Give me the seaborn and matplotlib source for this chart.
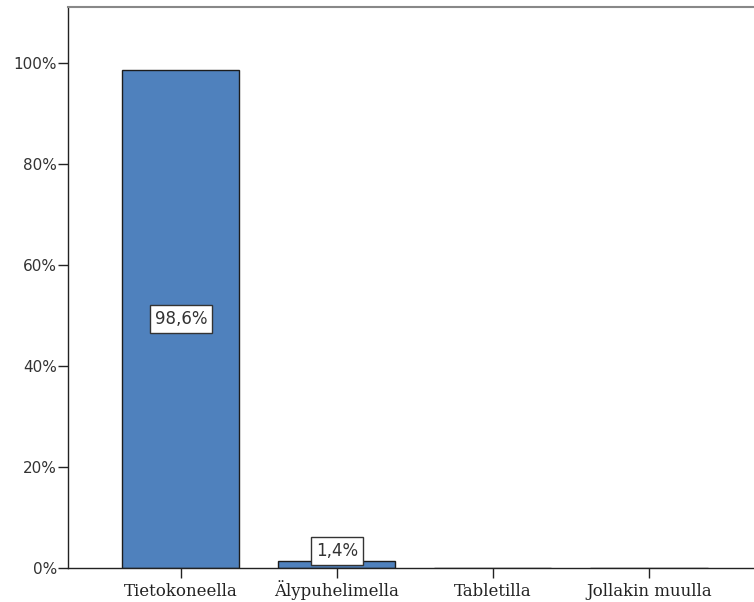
import numpy as np
import pandas as pd
import matplotlib.pyplot as plt
import seaborn as sns

# Device used to answer (percent of respondents)
categories = ['Tietokoneella', 'Älypuhelimella', 'Tabletilla', 'Jollakin muulla']
percents = [98.6, 1.4, 0.0, 0.0]
value_labels = ['98,6%', '1,4%', '', '']
y_ticks = [0, 20, 40, 60, 80, 100]
y_tick_labels = ['0%', '20%', '40%', '60%', '80%', '100%']

df = pd.DataFrame({'Laite': categories, 'Prosentti': percents})

sns.set_style('ticks')
fig = plt.figure(figsize=(7.54, 6.02), dpi=100)
ax = fig.add_axes([68 / 754, 34 / 602, 1 - 68 / 754, 561 / 602])

sns.barplot(data=df, x='Laite', y='Prosentti', color='#4f81bd', width=0.75,
            edgecolor='#1c1c1c', linewidth=1, saturation=1, ax=ax)

ax.set_xlim(-0.724, 3.673)
ax.set_ylim(0, 111)
ax.set_yticks(y_ticks)
ax.set_yticklabels(y_tick_labels, fontsize=11, color='#333333')
ax.set_xticks(range(len(categories)))
ax.set_xticklabels(categories, fontsize=12, family='DejaVu Serif', color='#222222')
for lab in ax.get_xticklabels():
    lab.set_verticalalignment('baseline')
ax.tick_params(axis='y', length=7, width=1, color='#222222', pad=1)
ax.tick_params(axis='x', length=7, width=1, color='#222222', pad=13)
ax.set_xlabel('')
ax.set_ylabel('')

ax.spines['right'].set_visible(False)
ax.spines['top'].set_color('#888888')
ax.spines['top'].set_linewidth(1.5)
for side in ['left', 'bottom']:
    ax.spines[side].set_color('#222222')
    ax.spines[side].set_linewidth(1)

# Boxed value labels: inside the bar if tall, just above if short
for i, (v, lab) in enumerate(zip(percents, value_labels)):
    if not lab:
        continue
    y = v / 2 if v > 10 else v + 2
    ax.text(i, y, lab, ha='center', va='center', fontsize=12, color='#333333',
            bbox=dict(boxstyle='square,pad=0.3', facecolor='white',
                      edgecolor='#333333', linewidth=1))

fig.savefig('out.png', dpi=100)
